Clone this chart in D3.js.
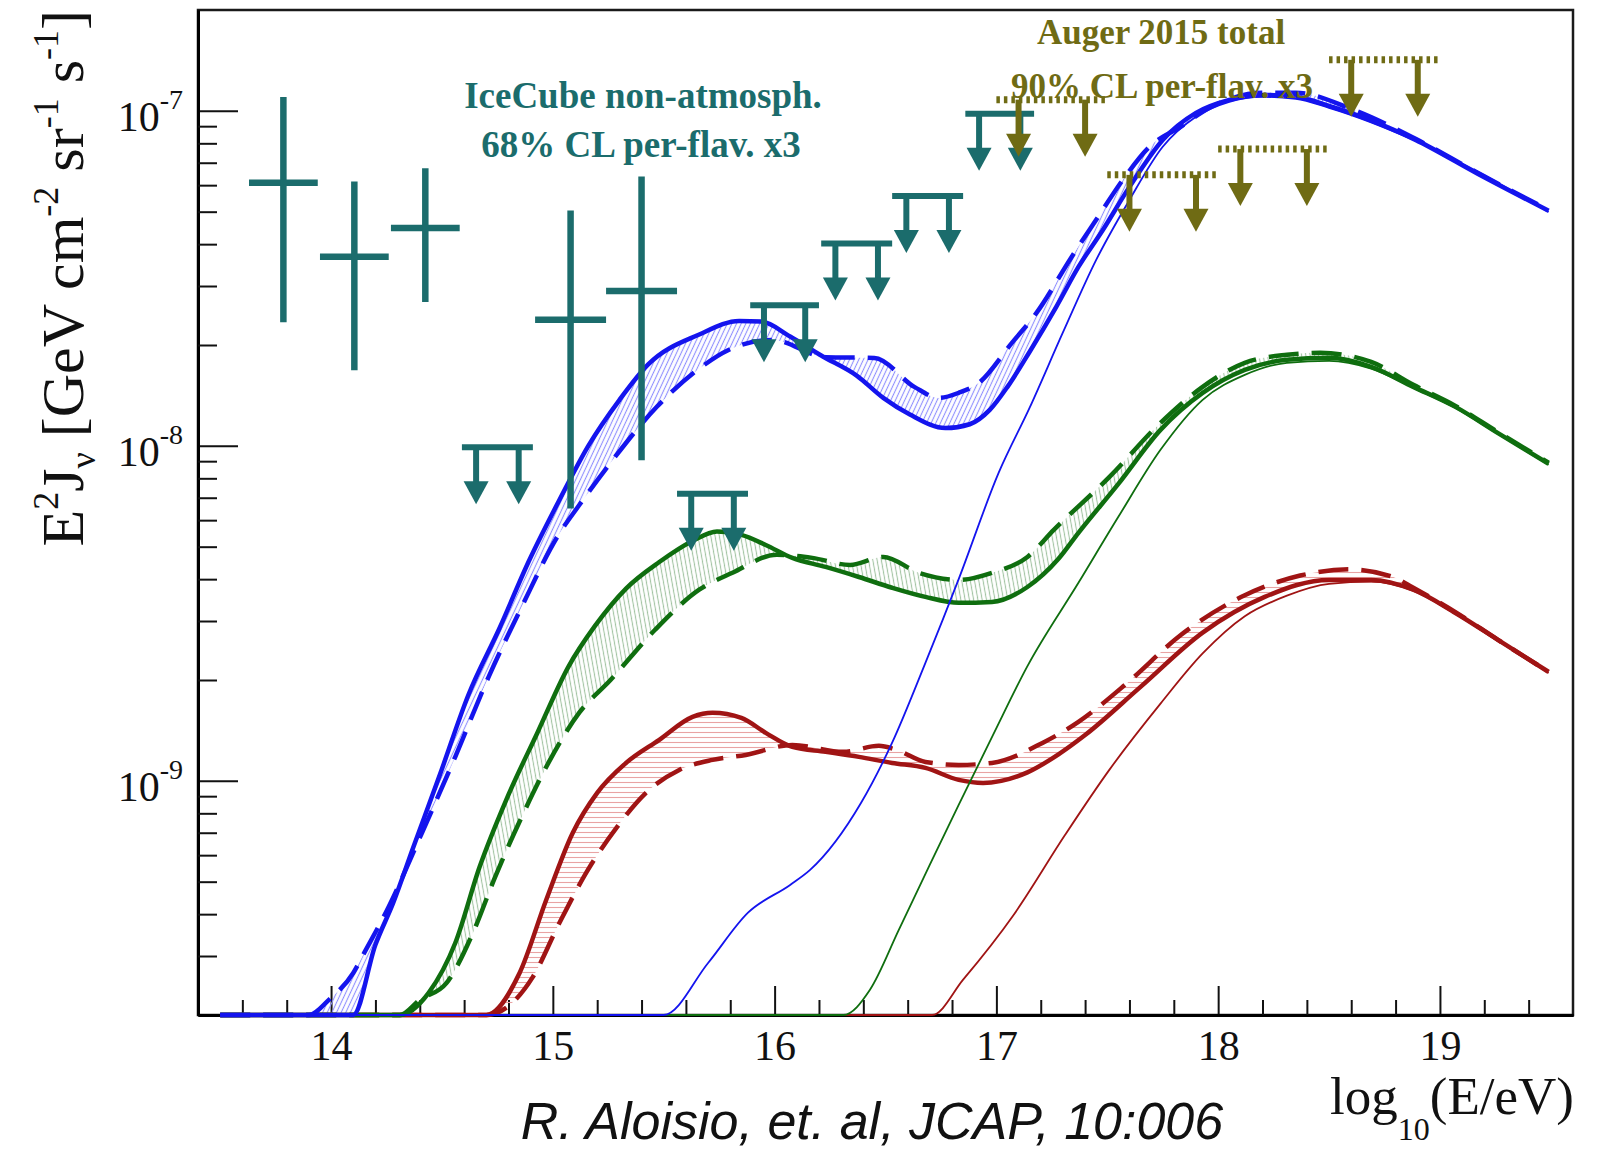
<!DOCTYPE html>
<html>
<head>
<meta charset="utf-8">
<script src="https://cdn.jsdelivr.net/npm/d3@7"></script>
<style>
  html, body { margin: 0; padding: 0; background: #fff; }
  svg { display: block; }
</style>
</head>
<body>
<svg id="chart" width="1611" height="1150"></svg>
<script>
// ---- axis ranges and tick labels ----
const xDomain = [13.4, 19.6];            // log10(E/eV)
const yDomain = [2e-10, 2e-7];           // E^2 J  [GeV cm^-2 sr^-1 s^-1]
const xMajorTicks = [14, 15, 16, 17, 18, 19];
const yMajorTicks = [1e-9, 1e-8, 1e-7];

// ---- model curves: [log10(E/eV), E^2 J] ----
const blueSolid = [[13.5,2e-10],[14.10,2e-10],[14.20,3.24e-10],[14.28,4.32e-10],[14.37,6.31e-10],[14.49,1.04e-9],[14.62,1.81e-9],[14.76,2.86e-9],[14.89,4.50e-9],[15.03,6.90e-9],[15.16,1.00e-8],[15.30,1.37e-8],[15.43,1.75e-8],[15.66,2.15e-8],[15.84,2.36e-8],[15.94,2.35e-8],[16.07,2.12e-8],[16.21,1.86e-8],[16.37,1.62e-8],[16.49,1.39e-8],[16.61,1.24e-8],[16.77,1.13e-8],[16.88,1.16e-8],[16.97,1.28e-8],[17.05,1.50e-8],[17.15,1.91e-8],[17.27,2.60e-8],[17.37,3.42e-8],[17.48,4.41e-8],[17.60,5.93e-8],[17.75,8.19e-8],[17.90,9.86e-8],[18.05,1.078e-7],[18.20,1.116e-7],[18.35,1.101e-7],[18.50,1.035e-7],[18.61,9.79e-8],[18.89,8.19e-8],[19.17,6.49e-8],[19.49,5.03e-8]];
const blueDashed = [[13.5,2e-10],[13.90,2e-10],[13.99,2.22e-10],[14.10,2.67e-10],[14.15,3.07e-10],[14.26,4.21e-10],[14.41,7.0e-10],[14.56,1.18e-9],[14.71,2.04e-9],[14.86,3.31e-9],[15.02,5.35e-9],[15.12,6.67e-9],[15.26,8.90e-9],[15.47,1.31e-8],[15.67,1.72e-8],[15.79,1.93e-8],[15.99,2.07e-8],[16.23,1.84e-8],[16.45,1.83e-8],[16.63,1.50e-8],[16.74,1.39e-8],[16.83,1.44e-8],[16.92,1.54e-8],[17.07,2.03e-8],[17.18,2.49e-8],[17.34,3.67e-8],[17.45,4.73e-8],[17.57,6.22e-8],[17.69,7.81e-8],[17.83,8.96e-8],[17.97,1.028e-7],[18.20,1.132e-7],[18.35,1.132e-7],[18.61,1.007e-7],[18.89,8.25e-8],[19.17,6.53e-8],[19.49,5.06e-8]];
const blueThin = [[13.5,2e-10],[15.50,2e-10],[15.70,2.86e-10],[15.88,4.04e-10],[16.07,4.89e-10],[16.16,5.42e-10],[16.39,8.6e-10],[16.53,1.30e-9],[16.68,2.25e-9],[16.83,4.0e-9],[17.01,8.3e-9],[17.15,1.30e-8],[17.30,2.18e-8],[17.45,3.59e-8],[17.60,5.42e-8],[17.75,7.81e-8],[17.90,9.60e-8],[18.05,1.064e-7],[18.20,1.101e-7],[18.35,1.086e-7],[18.50,1.021e-7],[18.89,8.14e-8],[19.49,4.99e-8]];

const greenSolid = [[13.5,2e-10],[14.31,2e-10],[14.44,2.33e-10],[14.56,3.28e-10],[14.67,5.54e-10],[14.79,8.78e-10],[14.93,1.39e-9],[15.07,2.19e-9],[15.19,2.90e-9],[15.33,3.75e-9],[15.48,4.50e-9],[15.63,5.20e-9],[15.74,5.55e-9],[15.85,5.42e-9],[15.96,5.06e-9],[16.08,4.63e-9],[16.23,4.35e-9],[16.38,4.06e-9],[16.53,3.77e-9],[16.68,3.54e-9],[16.83,3.40e-9],[16.98,3.42e-9],[17.14,3.79e-9],[17.28,4.60e-9],[17.37,5.50e-9],[17.55,7.70e-9],[17.74,1.116e-8],[17.93,1.439e-8],[18.12,1.686e-8],[18.31,1.806e-8],[18.50,1.831e-8],[18.69,1.72e-8],[18.88,1.50e-8],[19.07,1.307e-8],[19.26,1.093e-8],[19.49,8.84e-9]];
const greenDashed = [[13.5,2e-10],[14.31,2e-10],[14.40,2.22e-10],[14.52,2.49e-10],[14.64,3.52e-10],[14.74,5.17e-10],[14.86,7.81e-10],[14.98,1.131e-9],[15.12,1.60e-9],[15.26,2.0e-9],[15.46,2.82e-9],[15.66,3.72e-9],[15.81,4.18e-9],[16.01,4.73e-9],[16.17,4.63e-9],[16.34,4.41e-9],[16.49,4.66e-9],[16.65,4.18e-9],[16.83,3.98e-9],[16.98,4.18e-9],[17.14,4.66e-9],[17.26,5.62e-9],[17.51,8.08e-9],[17.74,1.171e-8],[17.93,1.50e-8],[18.12,1.77e-8],[18.31,1.87e-8],[18.46,1.895e-8],[18.69,1.78e-8],[18.88,1.521e-8],[19.07,1.316e-8],[19.26,1.101e-8],[19.49,8.90e-9]];
const greenThin = [[15.3,2e-10],[16.31,2e-10],[16.43,2.38e-10],[16.56,3.59e-10],[16.70,5.62e-10],[16.83,8.48e-10],[16.98,1.35e-9],[17.14,2.2e-9],[17.37,3.9e-9],[17.55,6.14e-9],[17.74,9.73e-9],[17.93,1.372e-8],[18.12,1.629e-8],[18.31,1.77e-8],[18.50,1.794e-8],[18.69,1.70e-8],[18.88,1.49e-8],[19.07,1.298e-8],[19.26,1.086e-8],[19.49,8.78e-9]];

const redSolid = [[13.5,2e-10],[14.70,2e-10],[14.85,2.67e-10],[14.97,4.41e-10],[15.09,7.0e-10],[15.20,9.21e-10],[15.33,1.131e-9],[15.48,1.326e-9],[15.63,1.552e-9],[15.72,1.596e-9],[15.85,1.542e-9],[15.96,1.391e-9],[16.08,1.263e-9],[16.23,1.221e-9],[16.38,1.179e-9],[16.53,1.131e-9],[16.68,1.093e-9],[16.83,1.007e-9],[16.94,9.86e-10],[17.14,1.06e-9],[17.28,1.20e-9],[17.40,1.37e-9],[17.65,1.908e-9],[17.93,2.77e-9],[18.21,3.54e-9],[18.50,3.98e-9],[18.69,3.98e-9],[18.88,3.72e-9],[19.07,3.17e-9],[19.26,2.64e-9],[19.49,2.115e-9]];
const redDashed = [[13.5,2e-10],[14.70,2e-10],[14.91,2.60e-10],[15.03,3.77e-10],[15.15,5.31e-10],[15.29,7.29e-10],[15.42,9.21e-10],[15.57,1.078e-9],[15.72,1.155e-9],[15.87,1.195e-9],[16.08,1.28e-9],[16.31,1.221e-9],[16.47,1.272e-9],[16.55,1.237e-9],[16.68,1.139e-9],[16.83,1.116e-9],[16.98,1.131e-9],[17.21,1.30e-9],[17.37,1.50e-9],[17.59,1.96e-9],[17.83,2.72e-9],[18.12,3.58e-9],[18.37,4.10e-9],[18.59,4.28e-9],[18.79,4.06e-9],[18.88,3.77e-9],[19.07,3.19e-9],[19.26,2.64e-9],[19.49,2.115e-9]];
const redThin = [[16.1,2e-10],[16.71,2e-10],[16.85,2.55e-10],[17.08,4.0e-10],[17.31,6.9e-10],[17.51,1.08e-9],[17.74,1.70e-9],[17.93,2.40e-9],[18.12,3.10e-9],[18.31,3.57e-9],[18.50,3.87e-9],[18.69,3.93e-9],[18.88,3.69e-9],[19.07,3.15e-9],[19.26,2.62e-9],[19.49,2.10e-9]];

// ---- IceCube non-atmospheric flux (68% CL per flavour x3) ----
const icecubeBinLo  = [13.63, 13.95, 14.27, 14.92, 15.24];
const icecubeBinHi  = [13.94, 14.26, 14.58, 15.24, 15.56];
const icecubeFlux   = [6.10e-8, 3.67e-8, 4.47e-8, 2.38e-8, 2.90e-8];
const icecubeFluxLo = [2.34e-8, 1.68e-8, 2.69e-8, 6.50e-9, 9.06e-9];
const icecubeFluxHi = [1.10e-7, 6.15e-8, 6.74e-8, 5.04e-8, 6.37e-8];
// IceCube upper limits
const icecubeLimitLo = [14.59, 15.56, 15.89, 16.21, 16.53, 16.86];
const icecubeLimitHi = [14.91, 15.88, 16.20, 16.53, 16.85, 17.17];
const icecubeLimit   = [9.9e-9, 7.2e-9, 2.63e-8, 4.02e-8, 5.57e-8, 9.8e-8];

// ---- Auger 2015 total, 90% CL per flavour x3 ----
const augerLo    = [17.0, 17.5, 18.0, 18.5];
const augerHi    = [17.5, 18.0, 18.5, 19.0];
const augerLimit = [1.08e-7, 6.44e-8, 7.69e-8, 1.42e-7];

// ---- styles ----
const colBlue = '#1414ee', colGreen = '#0f6e0f', colRed = '#a01414';
const colTeal = '#1b6c6c', colOlive = '#6f6b14';
const serif = '"Liberation Serif", "Times New Roman", serif';

const svg = d3.select('#chart');
const M = { left: 198, right: 1573, top: 10, bottom: 1015 };
const x = d3.scaleLinear().domain(xDomain).range([M.left, M.right]);
const y = d3.scaleLog().domain(yDomain).range([M.bottom, M.top]).clamp(true);

const defs = svg.append('defs');
defs.append('clipPath').attr('id', 'plotClip')
  .append('rect').attr('x', M.left).attr('y', M.top - 2)
  .attr('width', M.right - M.left).attr('height', M.bottom - M.top + 6);

// hatch patterns for the bands between the solid and dashed curves
function hatch(id, color, angle, gap) {
  const p = defs.append('pattern').attr('id', id).attr('patternUnits', 'userSpaceOnUse')
    .attr('width', 20).attr('height', gap).attr('patternTransform', `rotate(${angle})`);
  p.append('line').attr('x1', 0).attr('x2', 20).attr('y1', gap / 2).attr('y2', gap / 2)
    .attr('stroke', color).attr('stroke-width', 1.1);
}
hatch('hatchBlue', '#8f8fff', -65, 4.2);
hatch('hatchGreen', '#a3c4a3', 80, 4.2);
hatch('hatchRed', '#e9a3a3', 0, 5);

// ---- frame and axes ----
const gAxes = svg.append('g');
gAxes.append('rect').attr('x', M.left).attr('y', M.top)
  .attr('width', M.right - M.left).attr('height', M.bottom - M.top)
  .attr('fill', 'none').attr('stroke', '#1a1a1a').attr('stroke-width', 2.5);

const xMinor = d3.range(68, 98).map(k => +(k * 0.2).toFixed(1))
  .filter(v => Math.abs(v - Math.round(v)) > 1e-6);
const yMinor = [];
[-10, -9, -8, -7].forEach(e => { for (let k = 2; k <= 9; k++) {
  const v = +(k * Math.pow(10, e)).toPrecision(3);
  if (v > yDomain[0] * 1.001 && v < yDomain[1] * 0.999) yMinor.push(v);
}});

const xAxisMajor = gAxes.append('g').attr('transform', `translate(0,${M.bottom})`)
  .call(d3.axisBottom(x).tickValues(xMajorTicks).tickSize(-29).tickSizeOuter(0)
    .tickPadding(15).tickFormat(d3.format('d')));
const xAxisMinor = gAxes.append('g').attr('transform', `translate(0,${M.bottom})`)
  .call(d3.axisBottom(x).tickValues(xMinor).tickSize(-15).tickSizeOuter(0).tickFormat(() => ''));
const yAxisMajor = gAxes.append('g').attr('transform', `translate(${M.left},0)`)
  .call(d3.axisLeft(y).tickValues(yMajorTicks).tickSize(-40).tickSizeOuter(0).tickFormat(() => ''));
const yAxisMinor = gAxes.append('g').attr('transform', `translate(${M.left},0)`)
  .call(d3.axisLeft(y).tickValues(yMinor).tickSize(-19).tickSizeOuter(0).tickFormat(() => ''));

[xAxisMajor, xAxisMinor, yAxisMajor, yAxisMinor].forEach(g => {
  g.select('.domain').attr('stroke', '#000').attr('stroke-width', 3);
  g.selectAll('.tick line').attr('stroke', '#111').attr('stroke-width', 2);
});
xAxisMajor.selectAll('.tick text')
  .attr('font-family', serif).attr('font-size', 42).attr('fill', '#111');

// y tick labels as 10^n
yMajorTicks.forEach(v => {
  const exp = Math.round(Math.log10(v));
  const t = gAxes.append('text').attr('x', 183).attr('y', y(v) + 20)
    .attr('text-anchor', 'end').attr('font-family', serif).attr('font-size', 42).attr('fill', '#111');
  t.append('tspan').text('10');
  t.append('tspan').attr('font-size', 28).attr('dy', -22).text(String(exp));
});

// ---- curves ----
const line = d3.line().x(d => x(d[0])).y(d => y(d[1])).curve(d3.curveMonotoneX);
function band(a, b) {
  const back = line(b.slice().reverse());
  return line(a) + 'L' + back.slice(1) + 'Z';
}
const gCurves = svg.append('g').attr('clip-path', 'url(#plotClip)');
const groups = [
  { solid: redSolid, dashed: redDashed, thin: redThin, color: colRed, fill: 'url(#hatchRed)' },
  { solid: greenSolid, dashed: greenDashed, thin: greenThin, color: colGreen, fill: 'url(#hatchGreen)' },
  { solid: blueSolid, dashed: blueDashed, thin: blueThin, color: colBlue, fill: 'url(#hatchBlue)' }
];
groups.forEach(s => {
  gCurves.append('path').attr('d', band(s.solid, s.dashed)).attr('fill', s.fill).attr('stroke', 'none');
});
groups.forEach(s => {
  gCurves.append('path').attr('d', line(s.thin)).attr('fill', 'none')
    .attr('stroke', s.color).attr('stroke-width', 1.8);
  gCurves.append('path').attr('d', line(s.dashed)).attr('fill', 'none')
    .attr('stroke', s.color).attr('stroke-width', 4.5).attr('stroke-dasharray', '30,13');
  gCurves.append('path').attr('d', line(s.solid)).attr('fill', 'none')
    .attr('stroke', s.color).attr('stroke-width', 4.5).attr('stroke-linejoin', 'round');
});

// ---- measurements and limits ----
const gMarks = svg.append('g');
function downArrow(xp, yTop, color) {
  const len = 57, head = 23, hw = 12.5;
  gMarks.append('line').attr('x1', xp).attr('x2', xp).attr('y1', yTop).attr('y2', yTop + len - head + 1)
    .attr('stroke', color).attr('stroke-width', 6);
  gMarks.append('path')
    .attr('d', `M${xp - hw},${yTop + len - head}L${xp + hw},${yTop + len - head}L${xp},${yTop + len}Z`)
    .attr('fill', color);
}

icecubeFlux.forEach((f, i) => {
  const xc = x((icecubeBinLo[i] + icecubeBinHi[i]) / 2);
  gMarks.append('line').attr('x1', x(icecubeBinLo[i])).attr('x2', x(icecubeBinHi[i]))
    .attr('y1', y(f)).attr('y2', y(f)).attr('stroke', colTeal).attr('stroke-width', 6.5);
  gMarks.append('line').attr('x1', xc).attr('x2', xc)
    .attr('y1', y(icecubeFluxHi[i])).attr('y2', y(icecubeFluxLo[i]))
    .attr('stroke', colTeal).attr('stroke-width', 6.5);
});

icecubeLimit.forEach((f, i) => {
  const lo = icecubeLimitLo[i], hi = icecubeLimitHi[i], w = hi - lo;
  downArrow(x(lo + 0.2 * w), y(f), colTeal);
  downArrow(x(hi - 0.2 * w), y(f), colTeal);
  gMarks.append('line').attr('x1', x(lo)).attr('x2', x(hi)).attr('y1', y(f)).attr('y2', y(f))
    .attr('stroke', colTeal).attr('stroke-width', 6);
});

augerLimit.forEach((f, i) => {
  const lo = augerLo[i], hi = augerHi[i], w = hi - lo;
  gMarks.append('line').attr('x1', x(lo)).attr('x2', x(hi)).attr('y1', y(f)).attr('y2', y(f))
    .attr('stroke', colOlive).attr('stroke-width', 7).attr('stroke-dasharray', '3.5,4');
  downArrow(x(lo + 0.2 * w), y(f), colOlive);
  downArrow(x(hi - 0.2 * w), y(f), colOlive);
});

// ---- annotations ----
function label(txt, xc, yb, size, color) {
  svg.append('text').attr('x', xc).attr('y', yb).attr('text-anchor', 'middle')
    .attr('font-family', serif).attr('font-weight', 'bold').attr('font-size', size)
    .attr('fill', color).text(txt);
}
label('IceCube non-atmosph.', 643, 108, 37, colTeal);
label('68% CL per-flav. x3', 641, 157, 37, colTeal);
label('Auger 2015 total', 1161, 44, 35, colOlive);
label('90% CL per-flav. x3', 1162, 98, 35, colOlive);

// ---- axis titles ----
const yTitle = svg.append('text').attr('transform', 'translate(83,10) rotate(-90)')
  .attr('text-anchor', 'end').attr('font-family', serif).attr('font-size', 60).attr('fill', '#111');
yTitle.append('tspan').text('E');
yTitle.append('tspan').attr('font-size', 36).attr('dy', -25).text('2');
yTitle.append('tspan').attr('dy', 25).text('J');
yTitle.append('tspan').attr('font-size', 36).attr('dy', 12).text('ν');
yTitle.append('tspan').attr('dy', -12).text(' [GeV cm');
yTitle.append('tspan').attr('font-size', 36).attr('dy', -25).text('-2');
yTitle.append('tspan').attr('dy', 25).text(' sr');
yTitle.append('tspan').attr('font-size', 36).attr('dy', -25).text('-1');
yTitle.append('tspan').attr('dy', 25).text(' s');
yTitle.append('tspan').attr('font-size', 36).attr('dy', -25).text('-1');
yTitle.append('tspan').attr('dy', 25).text(']');

const xTitle = svg.append('text').attr('x', 1574).attr('y', 1114)
  .attr('text-anchor', 'end').attr('font-family', serif).attr('font-size', 53).attr('fill', '#111');
xTitle.append('tspan').text('log');
xTitle.append('tspan').attr('font-size', 32).attr('dy', 26).text('10');
xTitle.append('tspan').attr('dy', -26).text('(E/eV)');

svg.append('text').attr('x', 872).attr('y', 1139).attr('text-anchor', 'middle')
  .attr('font-family', '"Liberation Sans", Arial, sans-serif').attr('font-style', 'italic')
  .attr('font-size', 52).attr('fill', '#111')
  .text('R. Aloisio, et. al, JCAP, 10:006');
</script>
</body>
</html>
